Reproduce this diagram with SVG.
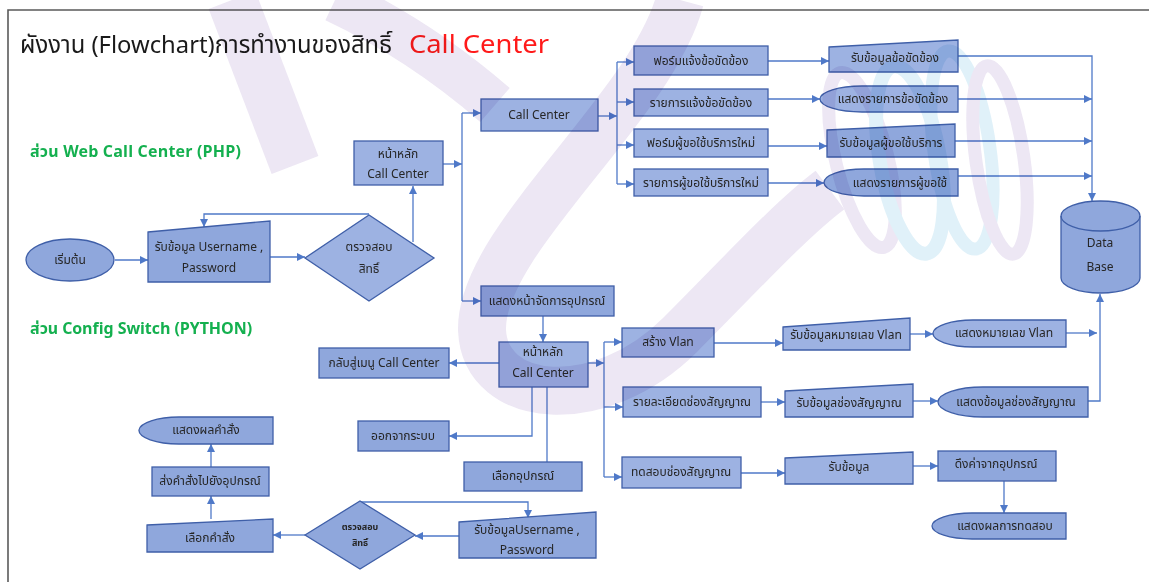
<svg xmlns="http://www.w3.org/2000/svg" width="1149" height="582" viewBox="0 0 1149 582">
  <style>
    text { font-family: 'Noto Sans Thai', 'Noto Sans', 'Liberation Sans', sans-serif; fill: #262626; }
    .lbl { font-size: 12px; text-anchor: middle; }
    .sm { font-size: 9px; text-anchor: middle; font-weight: bold; }
    .box { fill: #9db2e2; stroke: #3f5fa8; stroke-width: 1.3; }
    .box2 { fill: #8fa7dc; stroke: #3f5fa8; stroke-width: 1.3; }
    .conn path { fill: none; stroke: #4f79c8; stroke-width: 1.3; }
    .wm-p { fill: none; stroke: #d3c5e4; stroke-linecap: butt; }
    .wm-c { fill: none; stroke: #b5def0; }
  </style>
  <defs>
    <marker id="arr" markerWidth="8" markerHeight="8" refX="8" refY="4" orient="auto" markerUnits="userSpaceOnUse">
      <path d="M0,0 L8,4 L0,8 Z" fill="#4f79c8"/>
    </marker>
  </defs>

  <rect width="1149" height="582" fill="#ffffff"/>

  <!-- frame -->
  <path d="M8,582 V10 H1149" fill="none" stroke="#5a5a5a" stroke-width="1.6"/>

  <!-- title and section labels -->
  <text x="20" y="53" font-size="24" textLength="372" lengthAdjust="spacingAndGlyphs" style="fill:#1a1a1a">ผังงาน (Flowchart)การทำงานของสิทธิ์</text>
  <text x="409" y="53" font-size="26" textLength="140" lengthAdjust="spacingAndGlyphs" style="fill:#ff1a1a">Call Center</text>
  <text x="30" y="157" font-size="16" font-weight="bold" textLength="211" style="fill:#14b04f">ส่วน Web Call Center (PHP)</text>
  <text x="30" y="334" font-size="16" font-weight="bold" textLength="222" style="fill:#14b04f">ส่วน Config Switch (PYTHON)</text>

  <!-- connectors -->
  <g class="conn" id="connectors">
    <path d="M115,260 H148" marker-end="url(#arr)"/>
    <path d="M270,257 H305" marker-end="url(#arr)"/>
    <path d="M369,214 H204 V227" marker-end="url(#arr)"/>
    <path d="M413,242 V186" marker-end="url(#arr)"/>
    <path d="M443,164 H462" marker-end="url(#arr)"/>
    <path d="M462,113 V301"/>
    <path d="M462,113 H481" marker-end="url(#arr)"/>
    <path d="M462,301 H481" marker-end="url(#arr)"/>
    <path d="M598,116 H617" marker-end="url(#arr)"/>
    <path d="M617,62 V184"/>
    <path d="M617,62 H634" marker-end="url(#arr)"/>
    <path d="M617,102 H634" marker-end="url(#arr)"/>
    <path d="M617,145 H634" marker-end="url(#arr)"/>
    <path d="M617,184 H634" marker-end="url(#arr)"/>
    <path d="M768,61 H829" marker-end="url(#arr)"/>
    <path d="M768,99 H820" marker-end="url(#arr)"/>
    <path d="M768,146 H827" marker-end="url(#arr)"/>
    <path d="M768,183 H824" marker-end="url(#arr)"/>
    <path d="M958,56 H1092 V201" marker-end="url(#arr)"/>
    <path d="M958,99 H1092" marker-end="url(#arr)"/>
    <path d="M955,141 H1092" marker-end="url(#arr)"/>
    <path d="M958,176 H1092" marker-end="url(#arr)"/>
    <path d="M543,316 V342" marker-end="url(#arr)"/>
    <path d="M588,363 H604" marker-end="url(#arr)"/>
    <path d="M604,342 V477"/>
    <path d="M604,342 H622" marker-end="url(#arr)"/>
    <path d="M604,407 H623" marker-end="url(#arr)"/>
    <path d="M604,477 H622" marker-end="url(#arr)"/>
    <path d="M499,363 H449" marker-end="url(#arr)"/>
    <path d="M532,387 V436 H449" marker-end="url(#arr)"/>
    <path d="M547,387 V462"/>
    <path d="M714,343 H783" marker-end="url(#arr)"/>
    <path d="M910,334 H933" marker-end="url(#arr)"/>
    <path d="M1066,333 H1097" marker-end="url(#arr)"/>
    <path d="M761,402 H785" marker-end="url(#arr)"/>
    <path d="M913,401 H938" marker-end="url(#arr)"/>
    <path d="M1088,401 H1100 V294" marker-end="url(#arr)"/>
    <path d="M741,473 H785" marker-end="url(#arr)"/>
    <path d="M913,466 H938" marker-end="url(#arr)"/>
    <path d="M1004,481 V513" marker-end="url(#arr)"/>
    <path d="M459,536 H415" marker-end="url(#arr)"/>
    <path d="M305,535 H273" marker-end="url(#arr)"/>
    <path d="M360,502 H528 V518" marker-end="url(#arr)"/>
    <path d="M211,519 V496" marker-end="url(#arr)"/>
    <path d="M211,467 V444" marker-end="url(#arr)"/>
  </g>

  <!-- web call center part -->
  <g id="start">
    <ellipse class="box2" cx="70" cy="260" rx="44" ry="21"/>
    <text class="lbl" x="70" y="264">เริ่มต้น</text>
  </g>
  <g id="login">
    <polygon class="box2" points="148,232 270,221 270,282 148,282"/>
    <text class="lbl" x="209" y="251">รับข้อมูล Username ,</text>
    <text class="lbl" x="209" y="272">Password</text>
  </g>
  <g id="check">
    <polygon class="box" points="305,258 369,215 434,258 369,301"/>
    <text class="lbl" x="369" y="251">ตรวจสอบ</text>
    <text class="lbl" x="369" y="273">สิทธิ์</text>
  </g>
  <g id="home">
    <rect class="box" x="354" y="141" width="89" height="44"/>
    <text class="lbl" x="398" y="158">หน้าหลัก</text>
    <text class="lbl" x="398" y="178">Call Center</text>
  </g>
  <g id="callcenter">
    <rect class="box" x="481" y="99" width="117" height="32"/>
    <text class="lbl" x="539" y="119">Call Center</text>
  </g>
  <g id="form-issue">
    <rect class="box" x="634" y="46" width="134" height="29"/>
    <text class="lbl" x="701" y="65">ฟอร์มแจ้งข้อขัดข้อง</text>
  </g>
  <g id="list-issue">
    <rect class="box" x="634" y="89" width="134" height="27"/>
    <text class="lbl" x="701" y="107">รายการแจ้งข้อขัดข้อง</text>
  </g>
  <g id="form-user">
    <rect class="box" x="634" y="129" width="134" height="28"/>
    <text class="lbl" x="701" y="147">ฟอร์มผู้ขอใช้บริการใหม่</text>
  </g>
  <g id="list-user">
    <rect class="box" x="634" y="169" width="134" height="27"/>
    <text class="lbl" x="701" y="187">รายการผู้ขอใช้บริการใหม่</text>
  </g>
  <g id="input-issue">
    <polygon class="box" points="829,47 958,40 958,72 829,72"/>
    <text class="lbl" x="895" y="62">รับข้อมูลข้อขัดข้อง</text>
  </g>
  <g id="show-issue">
    <path class="box" d="M820,99 A42,13 0 0 1 862,86 H958 V112 H862 A42,13 0 0 1 820,99 Z"/>
    <text class="lbl" x="893" y="103">แสดงรายการข้อขัดข้อง</text>
  </g>
  <g id="input-user">
    <polygon class="box2" points="827,130 955,124 955,157 827,157"/>
    <text class="lbl" x="891" y="147">รับข้อมูลผู้ขอใช้บริการ</text>
  </g>
  <g id="show-user">
    <path class="box2" d="M824,183 A40,13.5 0 0 1 864,169 H958 V196 H864 A40,13.5 0 0 1 824,183 Z"/>
    <text class="lbl" x="900" y="187">แสดงรายการผู้ขอใช้</text>
  </g>
  <g id="database">
    <path class="box2" d="M1061,216 A39.5,15 0 0 1 1140,216 V278 A39.5,15 0 0 1 1061,278 Z"/>
    <path d="M1061,216 A39.5,15 0 0 0 1140,216" fill="none" stroke="#3f5fa8" stroke-width="1.3"/>
    <text class="lbl" x="1100" y="247">Data</text>
    <text class="lbl" x="1100" y="271">Base</text>
  </g>

  <!-- config switch part -->
  <g id="device-page">
    <rect class="box2" x="481" y="286" width="133" height="30"/>
    <text class="lbl" x="547" y="305">แสดงหน้าจัดการอุปกรณ์</text>
  </g>
  <g id="home2">
    <rect class="box" x="499" y="342" width="89" height="45"/>
    <text class="lbl" x="543" y="356">หน้าหลัก</text>
    <text class="lbl" x="543" y="377">Call Center</text>
  </g>
  <g id="back-menu">
    <rect class="box2" x="319" y="348" width="130" height="30"/>
    <text class="lbl" x="384" y="367">กลับสู่เมนู Call Center</text>
  </g>
  <g id="logout">
    <rect class="box2" x="358" y="421" width="91" height="30"/>
    <text class="lbl" x="403" y="440">ออกจากระบบ</text>
  </g>
  <g id="pick-device">
    <rect class="box2" x="464" y="462" width="118" height="29"/>
    <text class="lbl" x="523" y="480">เลือกอุปกรณ์</text>
  </g>
  <g id="make-vlan">
    <rect class="box" x="622" y="328" width="92" height="29"/>
    <text class="lbl" x="668" y="346">สร้าง Vlan</text>
  </g>
  <g id="port-detail">
    <rect class="box" x="623" y="387" width="138" height="30"/>
    <text class="lbl" x="692" y="406">รายละเอียดช่องสัญญาณ</text>
  </g>
  <g id="port-test">
    <rect class="box" x="622" y="457" width="119" height="31"/>
    <text class="lbl" x="681" y="476">ทดสอบช่องสัญญาณ</text>
  </g>
  <g id="input-vlan">
    <polygon class="box" points="783,327 910,318 910,350 783,350"/>
    <text class="lbl" x="846" y="339">รับข้อมูลหมายเลข Vlan</text>
  </g>
  <g id="input-port">
    <polygon class="box" points="785,391 913,384 913,417 785,417"/>
    <text class="lbl" x="849" y="407">รับข้อมูลช่องสัญญาณ</text>
  </g>
  <g id="input-data">
    <polygon class="box" points="785,458 913,452 913,484 785,484"/>
    <text class="lbl" x="849" y="471">รับข้อมูล</text>
  </g>
  <g id="show-vlan">
    <path class="box" d="M933,333 A40,13.5 0 0 1 973,320 H1066 V347 H973 A40,13.5 0 0 1 933,333 Z"/>
    <text class="lbl" x="1004" y="337">แสดงหมายเลข Vlan</text>
  </g>
  <g id="show-port">
    <path class="box2" d="M938,402 A45,15 0 0 1 983,387 H1088 V417 H983 A45,15 0 0 1 938,402 Z"/>
    <text class="lbl" x="1016" y="406">แสดงข้อมูลช่องสัญญาณ</text>
  </g>
  <g id="fetch">
    <rect class="box2" x="938" y="451" width="118" height="30"/>
    <text class="lbl" x="996" y="468">ดึงค่าจากอุปกรณ์</text>
  </g>
  <g id="show-test">
    <path class="box2" d="M932,526 A40,13 0 0 1 972,513 H1066 V539 H972 A40,13 0 0 1 932,526 Z"/>
    <text class="lbl" x="1005" y="530">แสดงผลการทดสอบ</text>
  </g>
  <g id="login2">
    <polygon class="box2" points="459,522 596,512 596,558 459,558"/>
    <text class="lbl" x="527" y="534">รับข้อมูลUsername ,</text>
    <text class="lbl" x="527" y="554">Password</text>
  </g>
  <g id="check2">
    <polygon class="box2" points="305,535 360,501 415,535 360,569"/>
    <text class="sm" x="360" y="530">ตรวจสอบ</text>
    <text class="sm" x="360" y="546">สิทธิ์</text>
  </g>
  <g id="pick-cmd">
    <polygon class="box2" points="147,525 273,519 273,552 147,552"/>
    <text class="lbl" x="210" y="542">เลือกคำสั่ง</text>
  </g>
  <g id="send-cmd">
    <rect class="box2" x="152" y="467" width="117" height="29"/>
    <text class="lbl" x="210" y="485">ส่งคำสั่งไปยังอุปกรณ์</text>
  </g>
  <g id="show-result">
    <path class="box2" d="M139,430 A40,13.5 0 0 1 179,417 H273 V444 H179 A40,13.5 0 0 1 139,430 Z"/>
    <text class="lbl" x="206" y="434">แสดงผลคำสั่ง</text>
  </g>

  <!-- faint logo watermark laid over the page -->
  <g id="watermark" opacity="0.42" style="mix-blend-mode:multiply">
    <path class="wm-p" stroke-width="50" d="M232,0 L295,165"/>
    <path class="wm-p" stroke-width="45" d="M335,0 Q420,40 495,105"/>
    <path class="wm-p" stroke-width="48" d="M680,0 C650,110 480,240 482,330 C485,405 600,415 680,335 C740,275 790,220 830,190"/>
    <ellipse class="wm-p" stroke-width="13" cx="862" cy="160" rx="26" ry="90" transform="rotate(-14 862 160)"/>
    <ellipse class="wm-c" stroke-width="14" cx="910" cy="160" rx="30" ry="95" transform="rotate(-10 910 160)"/>
    <ellipse class="wm-c" stroke-width="13" cx="962" cy="150" rx="28" ry="100" transform="rotate(-8 962 150)"/>
    <ellipse class="wm-p" stroke-width="13" cx="1000" cy="160" rx="24" ry="95" transform="rotate(-8 1000 160)"/>
  </g>
</svg>
